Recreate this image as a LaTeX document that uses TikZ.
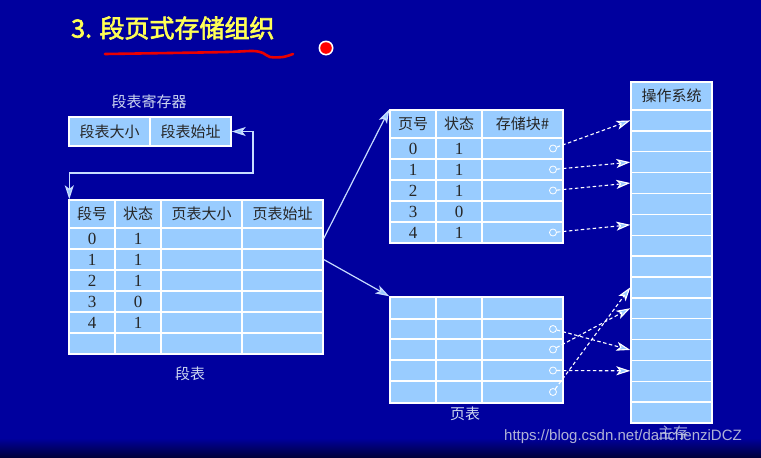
\documentclass[tikz,border=0pt]{standalone}
\usepackage{fontspec}
\setmainfont{Liberation Serif}
\newfontfamily\cjk{Noto Sans CJK SC}
\newfontfamily\cjkb{Noto Sans CJK SC}[FakeBold=2.5]
\newfontfamily\wmfont{Liberation Sans}
\usetikzlibrary{arrows.meta}
\definecolor{bg}{RGB}{0,0,158}
\definecolor{cellc}{RGB}{153,204,255}
\definecolor{lbl}{RGB}{205,215,240}
\definecolor{ttl}{RGB}{255,255,85}
\definecolor{conc}{RGB}{200,220,255}
\definecolor{tipc}{RGB}{150,200,255}
\definecolor{wmc}{RGB}{195,198,220}
\definecolor{redline}{RGB}{235,0,0}
\newcommand\numf{\fontsize{17}{17}\selectfont\rmfamily}
\newcommand\cellat[6]{\node[cell,minimum width={(#4-#2)*1pt},minimum height={(#5-#3)*1pt}] (#1) at ({(#2+#4)/2},{(#3+#5)/2}) {#6};}
\tikzset{
  tipA/.tip={Stealth[length=14pt,width=9pt,inset=3.5pt,fill=tipc]},
  cell/.style={draw=white, line width=1.4pt, fill=cellc, inner sep=0pt, text=black!85, font=\fontsize{15}{15}\selectfont\cjk},
  lab/.style={text=lbl, font=\fontsize{15}{15}\selectfont\cjk},
  ring/.style={circle, draw=white, line width=0.8pt, minimum size=7pt, inner sep=0pt},
  conn/.style={draw=conc, line width=1.2pt},
  dashar/.style={draw=white, line width=1.1pt, dash pattern=on 3.5pt off 2.5pt, -tipA}
}
\begin{document}
\begin{tikzpicture}[x=1pt,y=-1pt]
\useasboundingbox (0,0) rectangle (761,458);
\fill[bg] (0,0) rectangle (761,458);
\shade[top color=bg, bottom color=bg!35!black] (0,438) rectangle (761,458);

% title
\node[font=\fontsize{25}{25}\selectfont\cjkb, text=ttl, anchor=west, inner sep=0pt] (title) at (71,28) {3. 段页式存储组织};
\draw[redline, line width=2.6pt, line cap=round] plot[smooth] coordinates {(105,54) (170,53) (227,52) (253,51) (263,53) (270,57) (283,57) (293,54)};
\fill[white] (326,48) circle (7.5);
\fill[red] (326,48) circle (5.8);

% segment register
\node[lab] (reglab) at (149,102) {段表寄存器};
\cellat{r-1}{69}{117}{150}{146}{段表大小}
\cellat{r-2}{150}{117}{231}{146}{段表始址}

% segment table
\cellat{s-0-1}{69}{200}{115}{228}{段号}
\cellat{s-0-2}{115}{200}{161}{228}{状态}
\cellat{s-0-3}{161}{200}{242}{228}{页表大小}
\cellat{s-0-4}{242}{200}{323}{228}{页表始址}
\foreach \r/\ya/\yb/\a/\b in {1/228/249/0/1,2/249/270/1/1,3/270/291/2/1,4/291/312/3/0,5/312/333/4/1,6/333/354//}{
  \cellat{s-\r-1}{69}{\ya}{115}{\yb}{\numf\a}
  \cellat{s-\r-2}{115}{\ya}{161}{\yb}{\numf\b}
  \cellat{s-\r-3}{161}{\ya}{242}{\yb}{}
  \cellat{s-\r-4}{242}{\ya}{323}{\yb}{}
}
\node[lab] (stlab) at (190,374) {段表};

% page table 1
\cellat{p-0-1}{390}{110}{436}{138}{页号}
\cellat{p-0-2}{436}{110}{482}{138}{状态}
\cellat{p-0-3}{482}{110}{563}{138}{存储块\#}
\foreach \r/\ya/\yb/\a/\b in {1/138/159/0/1,2/159/180/1/1,3/180/201/2/1,4/201/222/3/0,5/222/243/4/1}{
  \cellat{p-\r-1}{390}{\ya}{436}{\yb}{\numf\a}
  \cellat{p-\r-2}{436}{\ya}{482}{\yb}{\numf\b}
  \cellat{p-\r-3}{482}{\ya}{563}{\yb}{}
}

% page table 2
\foreach \r/\ya/\yb in {0/297/319,1/319/339,2/339/360,3/360/381,4/381/403}{
  \cellat{q-\r-1}{390}{\ya}{436}{\yb}{}
  \cellat{q-\r-2}{436}{\ya}{482}{\yb}{}
  \cellat{q-\r-3}{482}{\ya}{563}{\yb}{}
}
\node[lab] (ptlab) at (465,414) {页表};

% main memory
\cellat{m-0}{631}{82}{712}{110}{操作系统}
\foreach \k in {1,...,15}{
  \pgfmathsetmacro\ya{110+(\k-1)*313/15}
  \pgfmathsetmacro\yb{110+\k*313/15}
  \cellat{m-\k}{631}{\ya}{712}{\yb}{}
}

% rings
\node[ring] (pc-1) at (553,148.5) {};
\node[ring] (pc-2) at (553,169.5) {};
\node[ring] (pc-3) at (553,190.5) {};
\node[ring] (pc-5) at (553,232.5) {};
\node[ring] (qc-1) at (553,329) {};
\node[ring] (qc-2) at (553,349.5) {};
\node[ring] (qc-3) at (553,370.5) {};
\node[ring] (qc-4) at (553,392) {};

% connectors
\coordinate (bend) at (253,173);
\draw[conn, tipA-tipA] (r-2.east) -| (bend) -| ([xshift=1pt]s-0-1.north west);
\draw[conn, -tipA] (s-1-4.east) -- (p-0-1.north west);
\draw[conn, -tipA] (s-2-4.east) -- (q-0-1.north west);

\draw[dashar] (pc-1) -- (m-1.west);
\draw[dashar] (pc-2) -- (m-3.west);
\draw[dashar] (pc-3) -- (m-4.west);
\draw[dashar] (pc-5) -- (m-6.west);
\draw[dashar] (qc-1) -- (m-12.west);
\draw[dashar] (qc-2) -- (m-10.west);
\draw[dashar] (qc-3) -- (m-13.west);
\draw[dashar] (qc-4) -- (m-9.west);

\node[lab, text=lbl!80!bg] (mmlab) at (673,433) {主存};
\node[font=\fontsize{15}{15}\selectfont\wmfont, text=wmc, opacity=0.9] (wm) at (623,437) {https://blog.csdn.net/danchenziDCZ};
\end{tikzpicture}
\end{document}
